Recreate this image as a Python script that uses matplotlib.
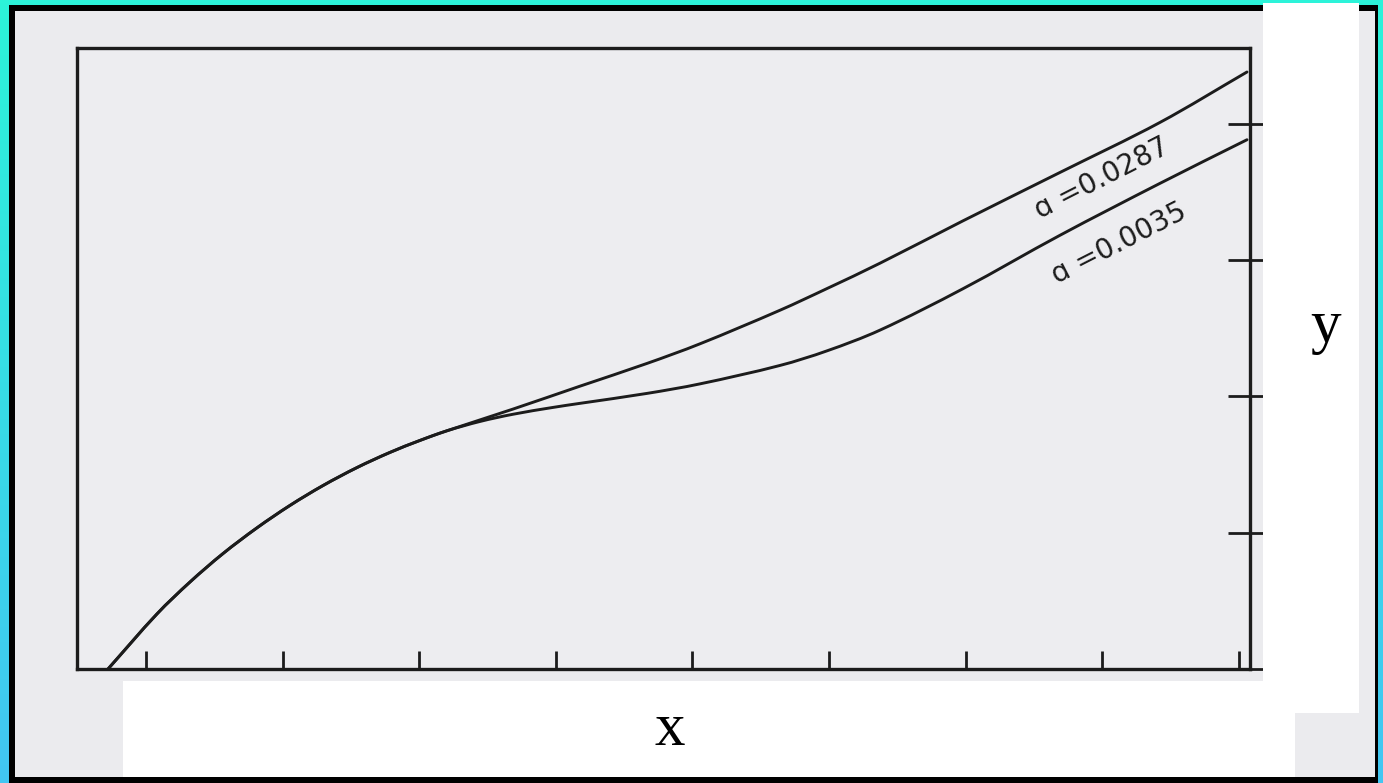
import matplotlib
matplotlib.use("Agg")
import numpy as np
import matplotlib.pyplot as plt
from matplotlib.patches import Rectangle, PathPatch
from matplotlib.path import Path

# ---------------- data ----------------
x_upper = [-0.278, 0.0805, 0.322, 0.564, 0.813, 1.054, 1.296, 1.545, 1.786, 2.006,
           2.204, 2.687, 3.177, 3.668, 4.056, 4.641, 4.985, 5.373, 5.981, 6.691,
           7.423, 8.060]
y_upper = [0.000, 0.404, 0.638, 0.847, 1.036, 1.200, 1.346, 1.478, 1.589, 1.677,
           1.748, 1.907, 2.075, 2.242, 2.386, 2.632, 2.791, 2.977, 3.288, 3.643,
           4.010, 4.380]

x_lower = [-0.278, 0.0805, 0.322, 0.564, 0.813, 1.054, 1.296, 1.545, 1.786, 2.006,
           2.204, 2.445, 2.687, 2.979, 3.177, 3.668, 4.056, 4.641, 4.985, 5.373,
           5.981, 6.691, 7.423, 8.060]
y_lower = [0.000, 0.404, 0.638, 0.847, 1.036, 1.200, 1.346, 1.478, 1.589, 1.677,
           1.748, 1.816, 1.869, 1.919, 1.949, 2.022, 2.092, 2.227, 2.334, 2.486,
           2.790, 3.182, 3.563, 3.883]

label_upper = "ɑ =0.0287"
label_lower = "ɑ =0.0035"
x_ticks = [0, 1, 2, 3, 4, 5, 6, 7, 8]
y_ticks = [0, 1, 2, 3, 4]
x_label = "x"
y_label = "y"

# ---------------- figure ----------------
W, H = 1383, 783
fig = plt.figure(figsize=(W / 100, H / 100), dpi=100)

# cyan frame with a slight top-to-bottom colour shift, as on the scan
bg = fig.add_axes([0, 0, 1, 1], zorder=-20)
bg.axis("off")
top_c = np.array([0x2C, 0xF3, 0xD9]) / 255
bot_c = np.array([0x42, 0xC6, 0xF2]) / 255
t = np.linspace(0, 1, 256)[:, None, None]
grad = top_c * (1 - t) + bot_c * t
bg.imshow(grad, aspect="auto", extent=[0, 1, 0, 1], origin="upper")
bg.set_xlim(0, 1)
bg.set_ylim(0, 1)


def rect_px(x0, y0, x1, y1, color, z):
    """Rectangle given in image pixel coords (origin top-left)."""
    r = Rectangle((x0 / W, 1 - y1 / H), (x1 - x0) / W, (y1 - y0) / H,
                  transform=fig.transFigure, facecolor=color, edgecolor="none",
                  zorder=z)
    fig.add_artist(r)


paper = "#EBEBEE"
ink = "#1C1C1C"

rect_px(9, 5, 1378, 783, "#000000", -10)
rect_px(15, 11, 1375, 777, paper, -9)

# axes frame in pixel coords
L, R, T, B = 77, 1250, 48, 669
ax = fig.add_axes([L / W, 1 - B / H, (R - L) / W, (B - T) / H])
ax.set_facecolor("#EDEDF0")
ax.set_xlim(-0.505, 8.082)
ax.set_ylim(0.0, 4.556)


def smooth_curve(xs, ys):
    """Smooth cubic Bezier path through the given data points."""
    P = np.column_stack([xs, ys]).astype(float)
    n = len(P)
    d = np.hypot(*np.diff(P, axis=0).T)
    T_ = np.zeros_like(P)
    for i in range(n):
        if i == 0:
            T_[i] = (P[1] - P[0]) / d[0]
        elif i == n - 1:
            T_[i] = (P[-1] - P[-2]) / d[-1]
        else:
            T_[i] = (P[i + 1] - P[i - 1]) / (d[i - 1] + d[i])
    verts = [P[0]]
    codes = [Path.MOVETO]
    for i in range(n - 1):
        c1 = P[i] + T_[i] * d[i] / 3
        c2 = P[i + 1] - T_[i + 1] * d[i] / 3
        verts += [c1, c2, P[i + 1]]
        codes += [Path.CURVE4] * 3
    return Path(verts, codes)


for xs, ys in [(x_upper, y_upper), (x_lower, y_lower)]:
    patch = PathPatch(smooth_curve(xs, ys), facecolor="none", edgecolor=ink,
                      lw=2.1, capstyle="round", transform=ax.transData,
                      zorder=3)
    patch.set_clip_path(ax.patch)
    ax.add_patch(patch)

for s in ax.spines.values():
    s.set_linewidth(2.4)
    s.set_color(ink)

ax.set_xticks(x_ticks)
ax.set_yticks(y_ticks)
ax.tick_params(axis="x", direction="in", length=13, width=2.0, color=ink,
               labelbottom=False)
ax.tick_params(axis="y", direction="inout", length=32, width=2.0, color=ink,
               left=False, right=True, labelleft=False, labelright=False)

ax.text(7.00, 3.60, label_upper, rotation=27, rotation_mode="anchor",
        ha="center", va="center", fontsize=20, color=ink,
        family=["DejaVu Sans"], zorder=4)
ax.text(7.12, 3.12, label_lower, rotation=27, rotation_mode="anchor",
        ha="center", va="center", fontsize=20, color=ink,
        family=["DejaVu Sans"], zorder=4)

# white patches covering the original tick labels
rect_px(1263, 3, 1359, 713, "#FFFFFF", 20)
rect_px(123, 681, 1295, 777, "#FFFFFF", 20)

fig.text(670 / W, 1 - 730 / H, x_label, ha="center", va="center",
         fontsize=44, family=["Liberation Serif"], color="#000000", zorder=30)
fig.text(1326 / W, 1 - 342 / H, y_label, ha="center", va="baseline",
         fontsize=44, family=["Liberation Serif"], color="#000000", zorder=30)

fig.savefig("out.png", dpi=100)
